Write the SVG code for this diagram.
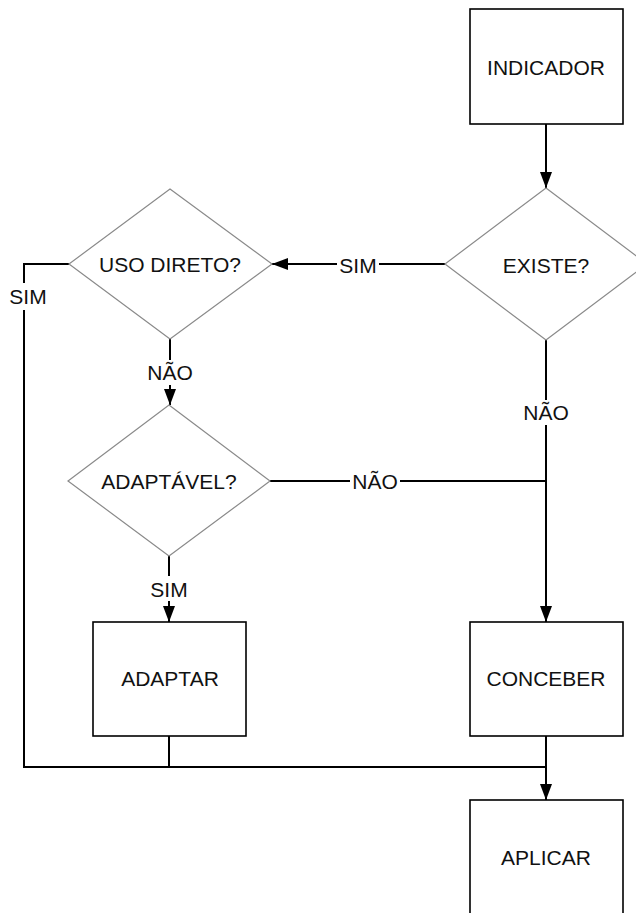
<svg xmlns="http://www.w3.org/2000/svg" width="636" height="913" viewBox="0 0 636 913">
<style>
.box{fill:#fff;stroke:#000;stroke-width:1.6}
.dia{fill:#fff;stroke:#8a8a8a;stroke-width:1.2}
.t{font-family:"Liberation Sans",Arial,sans-serif;font-size:21px;fill:#111;text-anchor:middle;dominant-baseline:central}
.c{fill:none;stroke:#000;stroke-width:2}
</style>
<defs>
<marker id="ah" viewBox="0 0 16 12" refX="16" refY="6" markerWidth="16" markerHeight="12" markerUnits="userSpaceOnUse" orient="auto">
<path d="M0,0 L16,6 L0,12 Z" fill="#000"/>
</marker>
</defs>
<rect width="636" height="913" fill="#fff"/>
<g id="connectors">
<path class="c" d="M546,124 V188" marker-end="url(#ah)"/>
<path class="c" d="M445,264 H379"/>
<path class="c" d="M337,264 H272" marker-end="url(#ah)"/>
<path class="c" d="M69,264 H24 V283"/>
<path class="c" d="M24,310 V767 H546"/>
<path class="c" d="M170,339 V360"/>
<path class="c" d="M170,385 V405" marker-end="url(#ah)"/>
<path class="c" d="M546,340 V400"/>
<path class="c" d="M546,425 V622" marker-end="url(#ah)"/>
<path class="c" d="M270,481 H350"/>
<path class="c" d="M400,481 H546"/>
<path class="c" d="M169,556 V576"/>
<path class="c" d="M169,601 V622" marker-end="url(#ah)"/>
<path class="c" d="M169,736 V767"/>
<path class="c" d="M546,736 V800" marker-end="url(#ah)"/>
<text class="t" x="358" y="265">SIM</text>
<text class="t" x="28" y="296">SIM</text>
<text class="t" x="170" y="372">NÃO</text>
<text class="t" x="546" y="412">NÃO</text>
<text class="t" x="375" y="481">NÃO</text>
<text class="t" x="169" y="589">SIM</text>
</g>
<g id="indicador">
<rect class="box" x="470" y="9" width="153" height="115"/>
<text class="t" x="546" y="67">INDICADOR</text>
</g>
<g id="existe">
<polygon class="dia" points="546,188 647,264 546,340 445,264"/>
<text class="t" x="546" y="265">EXISTE?</text>
</g>
<g id="uso-direto">
<polygon class="dia" points="170,189 272,264 170,339 69,264"/>
<text class="t" x="170" y="264">USO DIRETO?</text>
</g>
<g id="adaptavel">
<polygon class="dia" points="169,405 270,481 169,556 68,481"/>
<text class="t" x="169" y="481">ADAPTÁVEL?</text>
</g>
<g id="adaptar">
<rect class="box" x="93" y="622" width="153" height="114"/>
<text class="t" x="170" y="678">ADAPTAR</text>
</g>
<g id="conceber">
<rect class="box" x="470" y="622" width="153" height="114"/>
<text class="t" x="546" y="678">CONCEBER</text>
</g>
<g id="aplicar">
<rect class="box" x="470" y="800" width="153" height="114"/>
<text class="t" x="546" y="857">APLICAR</text>
</g>
</svg>
